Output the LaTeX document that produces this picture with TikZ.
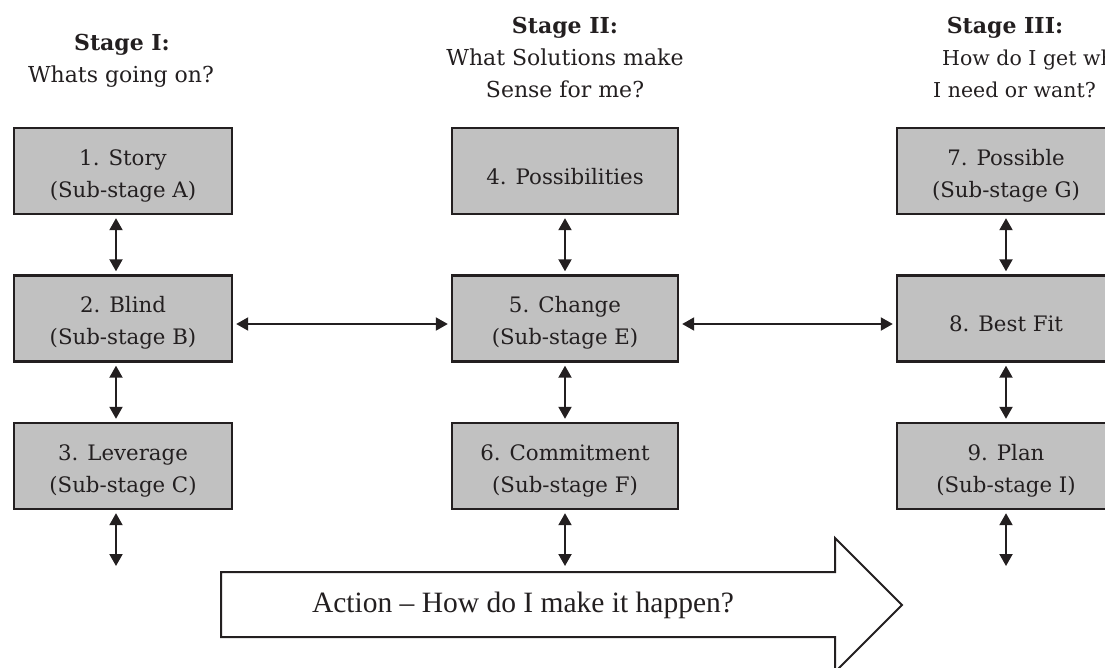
\documentclass[tikz,border=0pt]{standalone}
\usepackage{fontspec}
\setmainfont{DejaVu Serif}
\newfontfamily\actfont{Liberation Serif}
\usetikzlibrary{arrows.meta}
\definecolor{ink}{RGB}{35,31,32}
\definecolor{boxgray}{RGB}{193,193,193}
\begin{document}
\begin{tikzpicture}[x=1pt,y=-1pt,
  stagebox/.style={draw=ink, line width=2.4pt, fill=boxgray, minimum width=218pt,
    minimum height=86pt, inner sep=0pt, align=center, text=ink,
    font=\fontsize{21.3}{32}\selectfont},
  twoline/.style={text height=57pt, text depth=5pt},
  oneline/.style={text height=31pt, text depth=5pt},
  widebox/.style={minimum width=226pt},
  dbl/.style={draw=ink, line width=2pt,
    {Triangle[width=13pt,length=12pt]}-{Triangle[width=13pt,length=12pt]},
    shorten >=3pt, shorten <=3pt},
  head/.style={text=ink, font=\fontsize{22}{26}\selectfont, inner sep=0pt, anchor=base},
  headb/.style={head, font=\fontsize{22}{26}\selectfont\bfseries},
  heads/.style={head, font=\fontsize{20.5}{26}\selectfont},
  actarrow/.style={draw=ink, line width=2pt, fill=white, line join=miter},
]
\useasboundingbox (0,0) rectangle (1105,667);

% headings
\node[headb] (h1a) at (122,50) {Stage I:};
\node[head]  (h1b) at (121,82) {Whats going on?};
\node[headb] (h2a) at (565,33) {Stage II:};
\node[head]  (h2b) at (565,65) {What Solutions make};
\node[head]  (h2c) at (565,97) {Sense for me?};
\node[headb] (h3a) at (1005,33) {Stage III:};
\node[heads, anchor=base west] (h3b) at (942,65) {How do I get what};
\node[heads, anchor=base east] (h3c) at (1096,97) {I need or want?};

% boxes
\node[stagebox, twoline] (b1) at (123,171) {1. Story\\(Sub-stage A)};
\node[stagebox, twoline] (b2) at (123,318.5) {2. Blind\\(Sub-stage B)};
\node[stagebox, twoline] (b3) at (123,466) {3. Leverage\\(Sub-stage C)};
\node[stagebox, widebox, oneline] (b4) at (565,171) {4. Possibilities};
\node[stagebox, widebox, twoline] (b5) at (565,318.5) {5. Change\\(Sub-stage E)};
\node[stagebox, widebox, twoline] (b6) at (565,466) {6. Commitment\\(Sub-stage F)};
\node[stagebox, twoline] (b7) at (1006,171) {7. Possible\\(Sub-stage G)};
\node[stagebox, oneline] (b8) at (1006,318.5) {8. Best Fit};
\node[stagebox, twoline] (b9) at (1006,466) {9. Plan\\(Sub-stage I)};

% action arrow
\draw[actarrow] (221,572) -- (835,572) -- (835,538) -- (902,605) -- (835,672)
  -- (835,637) -- (221,637) -- cycle;
\node[text=ink, font=\actfont\fontsize{29.5}{32}\selectfont, inner sep=0pt] (act)
  at (523,605) {Action – How do I make it happen?};

% free ends
\coordinate (e3) at (116,566);
\coordinate (e6) at (565,566);
\coordinate (e9) at (1006,566);

% vertical connectors
\draw[dbl] ([xshift=-7pt]b1.south) -- ([xshift=-7pt]b2.north);
\draw[dbl] ([xshift=-7pt]b2.south) -- ([xshift=-7pt]b3.north);
\draw[dbl, shorten >=0pt] ([xshift=-7pt]b3.south) -- (e3);
\draw[dbl] (b4.south) -- (b5.north);
\draw[dbl] (b5.south) -- (b6.north);
\draw[dbl, shorten >=0pt] (b6.south) -- (e6);
\draw[dbl] (b7.south) -- (b8.north);
\draw[dbl] (b8.south) -- (b9.north);
\draw[dbl, shorten >=0pt] (b9.south) -- (e9);

% horizontal connectors
\draw[dbl] ([yshift=-5.5pt]b2.east) -- ([yshift=-5.5pt]b5.west);
\draw[dbl] ([yshift=-5.5pt]b5.east) -- ([yshift=-5.5pt]b8.west);
\end{tikzpicture}
\end{document}
